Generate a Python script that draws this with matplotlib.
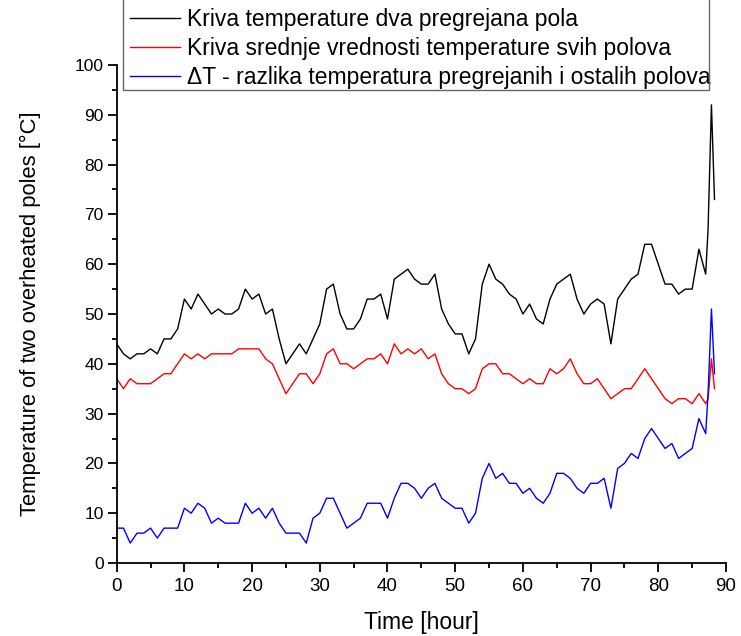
import matplotlib
matplotlib.use("Agg")
import matplotlib.pyplot as plt
from matplotlib import font_manager
from matplotlib.ticker import MultipleLocator
from matplotlib.patches import Polygon

hours = list(range(0, 88)) + [87.35, 87.85, 88.3]

two_poles = [44, 42, 41, 42, 42, 43, 42, 45, 45, 47,
             53, 51, 54, 52, 50, 51, 50, 50, 51, 55,
             53, 54, 50, 51, 45, 40, 42, 44, 42, 45,
             48, 55, 56, 50, 47, 47, 49, 53, 53, 54,
             49, 57, 58, 59, 57, 56, 56, 58, 51, 48,
             46, 46, 42, 45, 56, 60, 57, 56, 54, 53,
             50, 52, 49, 48, 53, 56, 57, 58, 53, 50,
             52, 53, 52, 44, 53, 55, 57, 58, 64, 64,
             60, 56, 56, 54, 55, 55, 63, 58, 67, 92, 73]
mean_all = [37, 35, 37, 36, 36, 36, 37, 38, 38, 40,
            42, 41, 42, 41, 42, 42, 42, 42, 43, 43,
            43, 43, 41, 40, 37, 34, 36, 38, 38, 36,
            38, 42, 43, 40, 40, 39, 40, 41, 41, 42,
            40, 44, 42, 43, 42, 43, 41, 42, 38, 36,
            35, 35, 34, 35, 39, 40, 40, 38, 38, 37,
            36, 37, 36, 36, 39, 38, 39, 41, 38, 36,
            36, 37, 35, 33, 34, 35, 35, 37, 39, 37,
            35, 33, 32, 33, 33, 32, 34, 32, 33, 41, 35]
delta_t = [7, 7, 4, 6, 6, 7, 5, 7, 7, 7,
           11, 10, 12, 11, 8, 9, 8, 8, 8, 12,
           10, 11, 9, 11, 8, 6, 6, 6, 4, 9,
           10, 13, 13, 10, 7, 8, 9, 12, 12, 12,
           9, 13, 16, 16, 15, 13, 15, 16, 13, 12,
           11, 11, 8, 10, 17, 20, 17, 18, 16, 16,
           14, 15, 13, 12, 14, 18, 18, 17, 15, 14,
           16, 16, 17, 11, 19, 20, 22, 21, 25, 27,
           25, 23, 24, 21, 22, 23, 29, 26, 34, 51, 38]

labels = ["Kriva temperature dva pregrejana pola",
          "Kriva srednje vrednosti temperature svih polova",
          "\u0394T - razlika temperatura pregrejanih i ostalih polova"]
colors = ["black", "red", "blue"]

avail = {f.name for f in font_manager.fontManager.ttflist}
main_font = "Liberation Sans" if "Liberation Sans" in avail else "DejaVu Sans"
plt.rcParams['font.family'] = [main_font, 'DejaVu Sans']

W, H = 741, 636
fig = plt.figure(figsize=(W / 100, H / 100), dpi=100)
ax = fig.add_axes([116.7 / W, 1 - 563 / H, (726 - 116.7) / W, (563 - 65) / H])

for ys, c, lab in zip([two_poles, mean_all, delta_t], colors, labels):
    ax.plot(hours, ys, color=c, lw=1.0, label=lab)

ax.set_xlim(0, 90)
ax.set_ylim(0, 100)
ax.xaxis.set_major_locator(MultipleLocator(10))
ax.xaxis.set_minor_locator(MultipleLocator(5))
ax.yaxis.set_major_locator(MultipleLocator(10))
ax.yaxis.set_minor_locator(MultipleLocator(5))
for s in ['top', 'right']:
    ax.spines[s].set_visible(False)
for s in ['left', 'bottom']:
    ax.spines[s].set_linewidth(1.3)
ax.tick_params(which='major', direction='out', length=6.5, width=1.3, labelsize=12.5, pad=3)
ax.tick_params(axis='x', which='major', labelsize=13.5, pad=4)
ax.tick_params(which='minor', direction='out', length=3.8, width=1.3)

ax.set_xlabel("Time [hour]", fontsize=16.5, labelpad=12)
ax.set_ylabel("Temperature of two overheated poles [\u00b0C]", fontsize=15.8, labelpad=24)

leg = ax.legend(loc='center left', bbox_to_anchor=(130 / W, 1 - 48.5 / H),
                bbox_transform=fig.transFigure, frameon=False, borderpad=0,
                borderaxespad=0, fontsize=16.5, handlelength=2.17,
                handletextpad=0.3, labelspacing=0.27)

# legend frame (top edge lies beyond the figure)
x0, x1, yb, yt = 123 / W, 709 / W, 1 - 90 / H, 1.02
frame = Polygon([[x0, yt], [x0, yb], [x1, yb], [x1, yt]], closed=False, fill=False,
                edgecolor='#666666', lw=1.0, transform=fig.transFigure, clip_on=False)
fig.add_artist(frame)

fig.savefig("out.png", dpi=100)
